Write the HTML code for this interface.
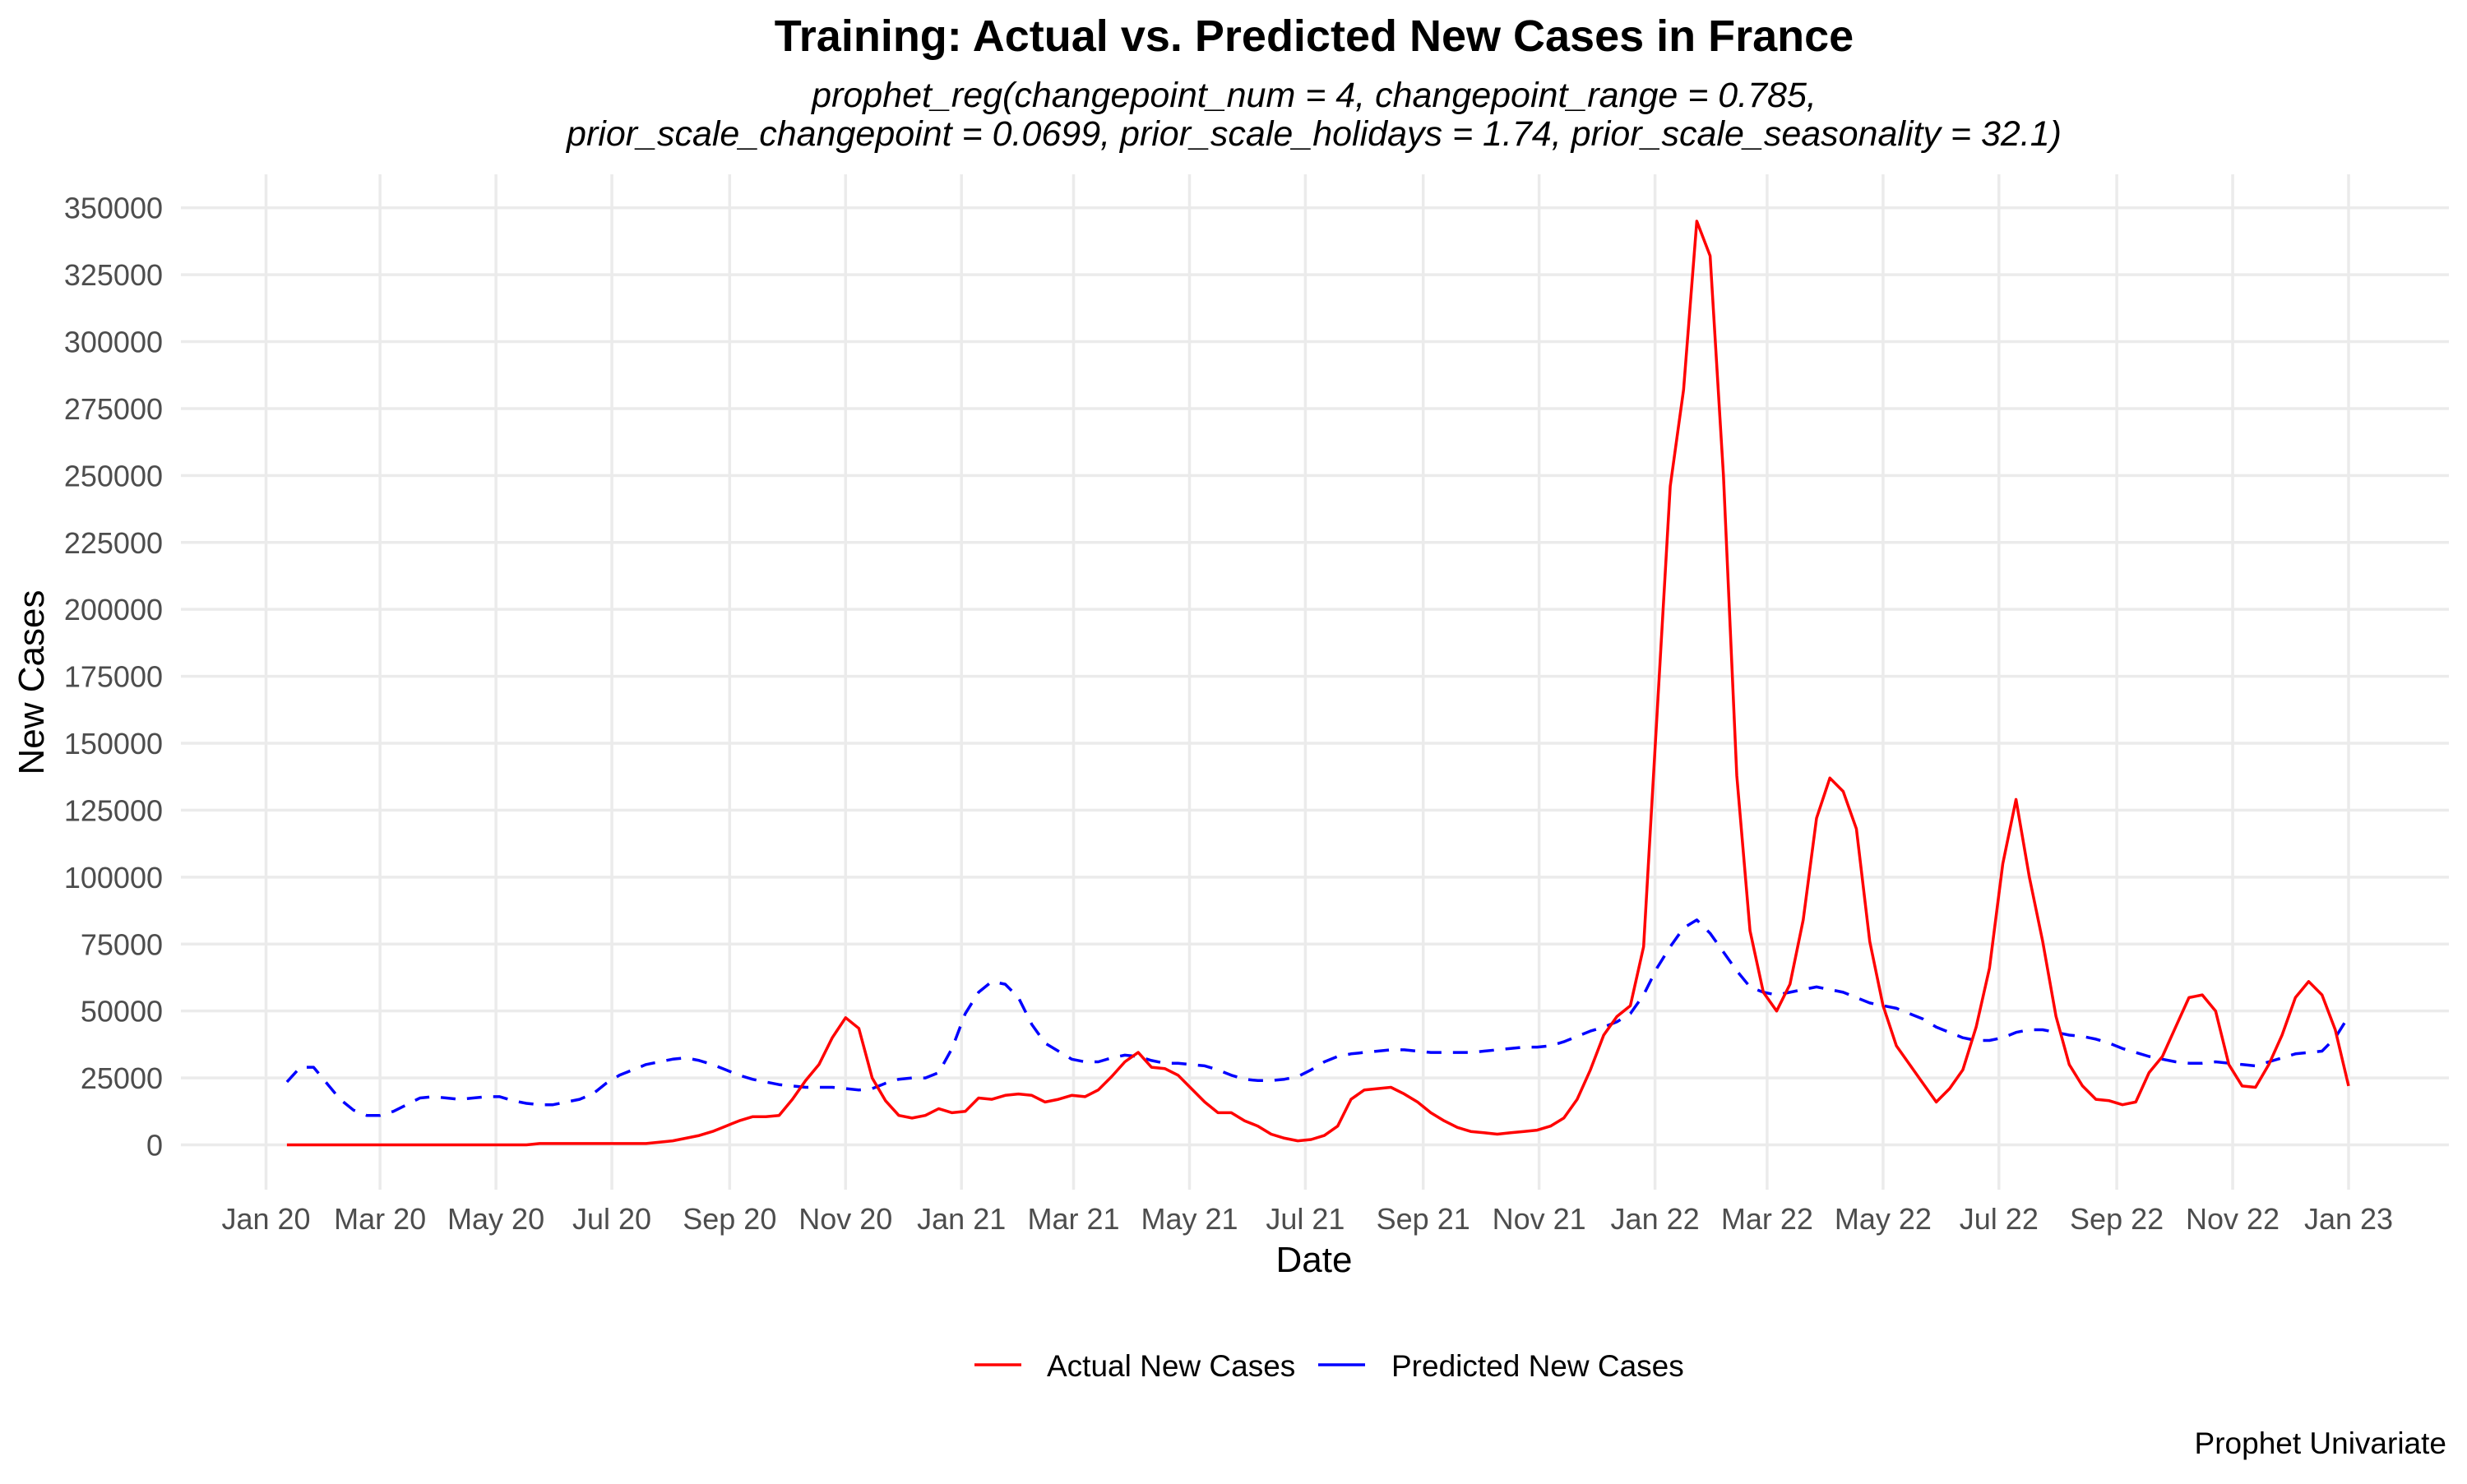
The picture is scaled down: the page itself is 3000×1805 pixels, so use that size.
<!DOCTYPE html>
<html><head><meta charset="utf-8"><style>
html,body{margin:0;padding:0;background:#fff;}
svg text{font-family:"Liberation Sans",Arial,sans-serif;}
</style></head><body>
<svg id="chart" width="3000" height="1800" viewBox="0 0 3000 1800" xmlns="http://www.w3.org/2000/svg">
<rect width="3000" height="1800" fill="#fff"/>
<g id="grid"></g>
<g id="yticks"></g>
<g id="xticks"></g>
<g id="series"></g>
<text x="1598" y="62" text-anchor="middle" font-size="54" font-weight="bold" fill="#000">Training: Actual vs. Predicted New Cases in France</text>
<text x="1598" y="130" text-anchor="middle" font-size="43" font-style="italic" fill="#000">prophet_reg(changepoint_num = 4, changepoint_range = 0.785,</text>
<text x="1598" y="177" text-anchor="middle" font-size="43" font-style="italic" fill="#000">prior_scale_changepoint = 0.0699, prior_scale_holidays = 1.74, prior_scale_seasonality = 32.1)</text>
<text x="1598" y="1547" text-anchor="middle" font-size="44" fill="#000">Date</text>
<text transform="translate(53,830) rotate(-90)" text-anchor="middle" font-size="44" fill="#000">New Cases</text>
<g>
<g>
<line x1="1185" y1="1660" x2="1242" y2="1660" stroke="#ff0000" stroke-width="3.5"/>
<text x="1273" y="1674" font-size="37" fill="#000">Actual New Cases</text>
</g>
<g>
<line x1="1603" y1="1660" x2="1660" y2="1660" stroke="#0000ff" stroke-width="3.5"/>
<text x="1692" y="1674" font-size="37" fill="#000">Predicted New Cases</text>
</g>
</g>
<text x="2975" y="1768" text-anchor="end" font-size="37" fill="#000">Prophet Univariate</text>
</svg>
<script>
// weekly series starting 2020-01-12
const startDate = "2020-01-12";
const actualK = [0,0,0,0,0,0,0,0,0,0,0,0,0,0,0,0,0,0,0,0.5,0.5,0.5,0.5,0.5,0.5,0.5,0.5,0.5,1,1.5,2.5,3.5,5,7,9,10.5,10.5,11,17,24,30,40,47.5,43.5,25,16.5,11,10,11,13.5,12,12.5,17.5,17,18.5,19,18.5,16,17,18.5,18,20.5,25.5,31,34.5,29,28.5,26,21,16,12,12,9,7,4,2.5,1.5,2,3.5,7,17,20.5,21,21.5,19,16,12,9,6.5,5,4.5,4,4.5,5,5.5,7,10,17,28,41,48,52,74,160,246,282,345,332,250,138,80,57,50,60,84,122,137,132,118,76,52,37,30,23,16,21,28,44,66,105,129,100,76,48,30,22,17,16.5,15,16,27,33,44,55,56,50,30,22,21.5,30,41,55,61,56,43,22];
const predictedK = [23.5,29,29,23,17,13,11,11,12.5,15,17.5,18,17.5,17,17.5,18,18,16.5,15.5,15,15,16,17,19,23,26,28,30,31,32,32.5,31.5,30,28,26,24.5,23.5,22.5,22,21.5,21.5,21.5,21,20.5,21,23,24.5,25,25,27,36,49,57,61,60,55,45,38,35,32,31,31,32.5,33.5,33,31.5,30.5,30.5,30,29.5,28,26,24.5,24,24,24.5,25.5,28,31,33,34,34.5,35,35.5,35.5,35,34.5,34.5,34.5,34.5,35,35.5,36,36.5,36.5,37,38.5,40.5,42.5,44,46,49,56,66,74,81,84,79,72,65,59,57,56,57,58,59,58,57,55,53,52,51,49,47,44,42,40,39,39,40,42,43,43,42,41,40.5,39.5,38,36,34.5,33,32,31,30.5,30.5,31,30.5,30,29.5,31,32.5,34,34.5,35,40,48];
const yTickValues = [0,25000,50000,75000,100000,125000,150000,175000,200000,225000,250000,275000,300000,325000,350000];
const xTickDates = ["2020-01-01","2020-03-01","2020-05-01","2020-07-01","2020-09-01","2020-11-01","2021-01-01","2021-03-01","2021-05-01","2021-07-01","2021-09-01","2021-11-01","2022-01-01","2022-03-01","2022-05-01","2022-07-01","2022-09-01","2022-11-01","2023-01-01"];
const xTickLabels = ["Jan 20","Mar 20","May 20","Jul 20","Sep 20","Nov 20","Jan 21","Mar 21","May 21","Jul 21","Sep 21","Nov 21","Jan 22","Mar 22","May 22","Jul 22","Sep 22","Nov 22","Jan 23"];

const NS = "http://www.w3.org/2000/svg";
const DAY = 86400000;
const t0 = Date.parse("2020-01-01"), t1 = Date.parse("2023-01-01");
const X0 = 323.5, X1 = 2856;
const Y0 = 1392.5, Y350 = 252.7;
function xScale(ms){ return X0 + (ms - t0)/(t1 - t0)*(X1 - X0); }
function yScale(v){ return Y0 - v/350000*(Y0 - Y350); }
function mk(tag, attrs, parent){ const e=document.createElementNS(NS,tag); for(const k in attrs) e.setAttribute(k,attrs[k]); parent.appendChild(e); return e; }

const grid = document.getElementById('grid');
const yt = document.getElementById('yticks');
const xt = document.getElementById('xticks');
const ser = document.getElementById('series');

yTickValues.forEach(v=>{
  const y=yScale(v);
  const l=mk('line',{x1:220,x2:2978,y1:y,y2:y,stroke:'#ebebeb','stroke-width':3.5},grid);
  
  
  const t=mk('text',{x:198,y:y+13,'text-anchor':'end','font-size':36,fill:'#4d4d4d'},yt);
  t.textContent=String(v);
  
  
});
xTickDates.forEach((d,i)=>{
  const x=xScale(Date.parse(d));
  const l=mk('line',{x1:x,x2:x,y1:212,y2:1447,stroke:'#ebebeb','stroke-width':3.5},grid);
  
  
  const t=mk('text',{x:x,y:1495,'text-anchor':'middle','font-size':36,fill:'#4d4d4d'},xt);
  t.textContent=xTickLabels[i];
  
  
});

function pts(arr){
  const s=Date.parse(startDate);
  return arr.map((v,i)=>xScale(s+i*7*DAY).toFixed(1)+','+yScale(v*1000).toFixed(1)).join(' ');
}
const pred=mk('polyline',{points:pts(predictedK),fill:'none',stroke:'#0000ff','stroke-width':3.5,'stroke-dasharray':'18,14','stroke-linejoin':'round'},ser);


const act=mk('polyline',{points:pts(actualK),fill:'none',stroke:'#ff0000','stroke-width':3.5,'stroke-linejoin':'round'},ser);


</script>
</body></html>
